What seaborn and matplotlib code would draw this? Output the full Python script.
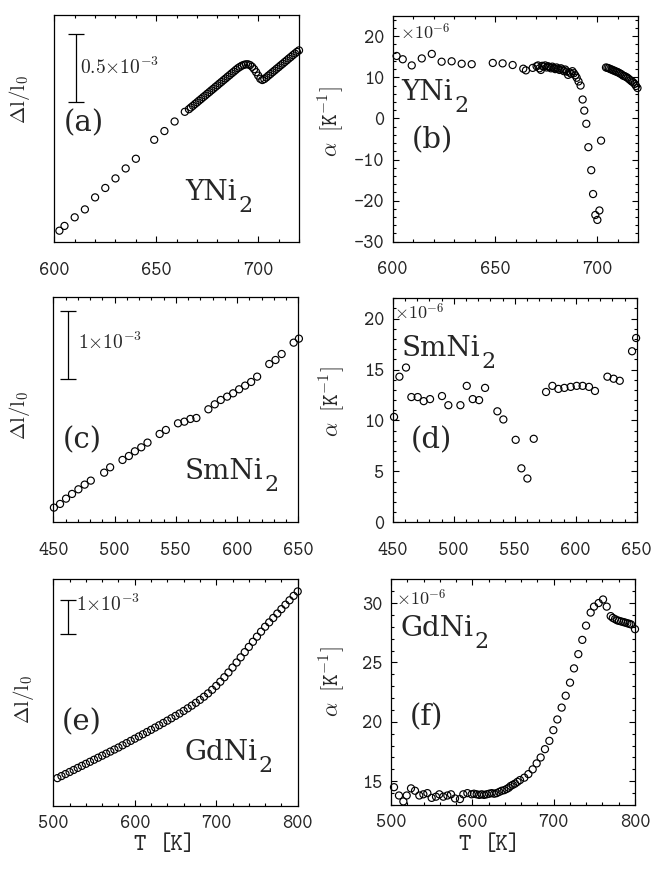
import matplotlib
matplotlib.use("Agg")
import matplotlib.pyplot as plt
from matplotlib.ticker import MultipleLocator, NullLocator
import seaborn as sns

# ---------------- data ----------------
# (a) YNi2 thermal expansion, Delta l / l0 in units of 1e-3 (arbitrary offset)
Ta = [602.5, 605, 610, 615, 620, 625, 630, 635, 640, 649, 654, 659, 664,
      666, 667, 668, 669, 670, 671, 672, 673, 674, 675, 676, 677, 678, 679, 680,
      681, 682, 683, 684, 685, 686, 687, 688, 689, 690, 691, 692, 693, 694, 695,
      696, 697, 698, 699, 700, 701, 702, 703, 704, 705, 706, 707, 708, 709, 710,
      711, 712, 713, 714, 715, 716, 717, 718, 719, 720]
dla = [0.085, 0.120, 0.183, 0.241, 0.329, 0.398, 0.468, 0.541, 0.612, 0.751, 0.815, 0.885, 0.956,
       0.975, 0.988, 1.000, 1.013, 1.025, 1.038, 1.050, 1.063, 1.075, 1.088, 1.100, 1.113, 1.125, 1.138, 1.150,
       1.163, 1.175, 1.188, 1.200, 1.213, 1.225, 1.238, 1.250, 1.263, 1.275, 1.285, 1.294, 1.300, 1.304, 1.304,
       1.298, 1.286, 1.268, 1.246, 1.221, 1.198, 1.189, 1.196, 1.208, 1.221, 1.233, 1.246, 1.258, 1.271, 1.283,
       1.296, 1.308, 1.321, 1.333, 1.346, 1.358, 1.371, 1.383, 1.395, 1.406]

# (b) YNi2 expansion coefficient alpha (1e-6 / K)
Tb = [601.9, 604.9, 609.3, 614.2, 619.1, 623.9, 628.8, 633.7, 638.6, 648.9, 653.7, 658.6, 663.8, 665.1,
      668.4, 670.3, 671.0, 671.7, 672.4, 673.1, 673.8, 674.5, 675.2, 675.9, 676.6, 677.3, 678.0, 678.7,
      679.4, 680.1, 680.8, 681.5, 682.2, 682.9, 683.6, 684.3, 685.0, 685.7, 686.4, 687.1, 687.8, 688.5,
      689.2, 689.9, 690.8, 691.8, 692.8, 693.6, 694.6, 695.6, 697.0, 697.9, 699.0, 700.0, 701.0, 701.8,
      704.2, 704.9, 705.6, 706.3, 707.0, 707.7, 708.4, 709.1, 709.8, 710.5, 711.2, 711.9, 712.6, 713.3,
      714.0, 714.7, 715.4, 716.1, 716.8, 717.5, 718.2, 718.9, 719.6]
alb = [15.2, 14.4, 12.9, 14.6, 15.7, 13.8, 13.9, 13.3, 13.2, 13.5, 13.4, 13.0, 12.1, 11.7,
       12.3, 12.7, 12.9, 12.2, 11.8, 12.8, 12.6, 12.9, 12.4, 12.7, 12.5, 12.2, 12.6, 12.3,
       12.0, 12.4, 12.1, 11.8, 12.2, 11.9, 11.5, 11.9, 11.4, 10.6, 11.2, 10.9, 11.5, 11.0,
       10.5, 9.9, 9.0, 8.0, 4.6, 1.9, -1.3, -7.0, -12.6, -18.4, -23.5, -24.7, -22.4, -5.4,
       12.4, 12.3, 12.2, 12.0, 11.9, 11.7, 11.6, 11.4, 11.3, 11.1, 10.9, 10.7, 10.4, 10.3,
       10.1, 9.9, 9.6, 9.3, 9.0, 8.8, 8.4, 7.9, 7.4]

# (c) SmNi2 Delta l / l0 (1e-3)
Tc = [450.5, 455.5, 460.4, 465.3, 470.5, 475.6, 480.6, 491.5, 496.4, 506.5, 511.7, 516.6, 521.8, 526.9,
      536.8, 541.9, 551.8, 557.0, 561.9, 566.8, 576.6, 581.8, 586.7, 591.9, 596.8, 601.7, 606.6, 611.5,
      616.4, 626.3, 631.4, 636.4, 646.2, 650.5]
dlc = [0.216, 0.270, 0.348, 0.417, 0.485, 0.554, 0.613, 0.730, 0.809, 0.917, 0.975, 1.044, 1.103, 1.172,
       1.299, 1.358, 1.456, 1.480, 1.520, 1.534, 1.662, 1.735, 1.799, 1.848, 1.897, 1.956, 2.010, 2.064,
       2.142, 2.328, 2.387, 2.475, 2.642, 2.701]

# (d) SmNi2 alpha (1e-6 / K)
Td = [451.1, 455.5, 460.9, 465.3, 470.5, 475.4, 480.6, 490.4, 495.6, 505.5, 510.7, 515.6, 520.8, 525.7,
      535.8, 540.7, 550.8, 555.5, 560.4, 565.6, 575.7, 580.9, 585.8, 590.7, 595.9, 600.8, 605.7, 610.9,
      615.8, 626.0, 631.1, 636.1, 646.2, 649.5]
ald = [10.35, 14.3, 15.2, 12.3, 12.3, 11.9, 12.1, 12.4, 11.5, 11.5, 13.4, 12.1, 12.0, 13.2,
       10.9, 10.1, 8.1, 5.3, 4.3, 8.2, 12.8, 13.4, 13.1, 13.2, 13.3, 13.4, 13.4, 13.3,
       12.9, 14.3, 14.1, 13.9, 16.8, 18.1]

# (e) GdNi2 Delta l / l0 (1e-3)
Te = [505, 510, 515, 520, 525, 530, 535, 540, 545, 550, 555, 560, 565, 570, 575, 580, 585, 590, 595, 600,
      605, 610, 615, 620, 625, 630, 635, 640, 645, 650, 655, 660, 665, 670, 675, 680, 685, 690, 695, 700,
      705, 710, 715, 720, 725, 730, 735, 740, 745, 750, 755, 760, 765, 770, 775, 780, 785, 790, 795, 800]
dle = [0.82, 0.88, 0.94, 1.00, 1.06, 1.12, 1.18, 1.24, 1.30, 1.36,
       1.42, 1.48, 1.54, 1.60, 1.66, 1.72, 1.785, 1.85, 1.915, 1.98,
       2.045, 2.11, 2.175, 2.24, 2.307, 2.374, 2.442, 2.51, 2.58, 2.65,
       2.72, 2.795, 2.872, 2.952, 3.035, 3.122, 3.214, 3.312, 3.418, 3.532,
       3.655, 3.787, 3.926, 4.071, 4.220, 4.372, 4.525, 4.678, 4.830, 4.980,
       5.127, 5.272, 5.40, 5.53, 5.66, 5.79, 5.92, 6.05, 6.18, 6.31]

# (f) GdNi2 alpha (1e-6 / K)
Tf = [503.7, 509.8, 515.2, 519.3, 524.6, 529.5, 534.8, 539.8, 544.7, 550.0, 555.3, 559.4, 564.3, 569.3,
      573.8, 578.7, 584.8, 588.9, 593.9, 599.2, 602.0, 605.3, 608.5, 611.5, 614.5, 617.6, 620.7, 623.8,
      626.9, 629.9, 633.0, 636.1, 639.2, 642.2, 644.7, 647.1, 649.8, 652.5, 655.5, 658.6, 663.9, 668.9,
      674.2, 679.1, 684.0, 689.3, 694.7, 699.6, 704.5, 709.8, 714.8, 720.1, 725.0, 730.3, 735.2, 739.8,
      745.5, 749.6, 755.3, 760.7, 765.2, 770.1, 772.7, 775.4, 778.0, 780.3, 783.0, 785.7, 788.2, 790.6,
      793.0, 795.1, 800.0]
alf = [14.5, 13.8, 13.3, 13.8, 14.4, 14.2, 13.8, 13.9, 14.0, 13.6, 13.7, 13.9, 13.7, 13.8,
       13.9, 13.55, 13.5, 13.9, 14.0, 13.9, 13.95, 13.9, 13.85, 13.9, 13.85, 13.9, 13.95, 14.0,
       13.95, 14.0, 14.1, 14.2, 14.25, 14.35, 14.45, 14.6, 14.7, 14.8, 14.95, 15.1, 15.3, 15.6,
       16.0, 16.5, 17.0, 17.7, 18.4, 19.3, 20.2, 21.2, 22.2, 23.3, 24.5, 25.7, 26.9, 28.1,
       29.2, 29.7, 30.0, 30.3, 29.7, 28.9, 28.75, 28.65, 28.55, 28.5, 28.45, 28.4, 28.35, 28.3,
       28.25, 28.2, 27.8]

compounds = ["YNi", "SmNi", "GdNi"]
panel_tags = ["(a)", "(b)", "(c)", "(d)", "(e)", "(f)"]

# ---------------- style ----------------
sns.set_style("ticks")
plt.rcParams["font.family"] = ["cmtt10", "DejaVu Sans"]
plt.rcParams["mathtext.fontset"] = "cm"
plt.rcParams["axes.unicode_minus"] = False
plt.rcParams["axes.linewidth"] = 0.9

W, H = 655, 873
fig = plt.figure(figsize=(W / 100, H / 100), dpi=100)
renderer = fig.canvas.get_renderer()


def add_ax(l, t, r, b):
    return fig.add_axes([l / W, 1 - b / H, (r - l) / W, (b - t) / H])


def ftext(x, y, s, **kw):
    return fig.text(x / W, 1 - y / H, s, **kw)


TICK_FS = 14
SERIF = "DejaVu Serif"


def style_ax(ax, xlim, xmaj, xmin, ylim, ymaj=None, ymin=None, xpad=14):
    ax.set_xlim(*xlim)
    ax.set_ylim(*ylim)
    ax.xaxis.set_major_locator(MultipleLocator(xmaj))
    ax.xaxis.set_minor_locator(MultipleLocator(xmin))
    if ymaj is None:
        ax.yaxis.set_major_locator(NullLocator())
        ax.yaxis.set_minor_locator(NullLocator())
    else:
        ax.yaxis.set_major_locator(MultipleLocator(ymaj))
        ax.yaxis.set_minor_locator(MultipleLocator(ymin))
    ax.tick_params(which="both", direction="in", top=True, right=True, color="black", width=0.8)
    ax.tick_params(which="major", length=4.5, labelsize=TICK_FS)
    ax.tick_params(which="minor", length=2.2)
    ax.tick_params(axis="x", which="major", pad=xpad)
    ax.tick_params(axis="y", which="major", pad=6)
    for sp in ax.spines.values():
        sp.set_visible(True)
        sp.set_color("black")
    ax.set_xlabel("")
    ax.set_ylabel("")


def scatter(ax, x, y):
    sns.scatterplot(x=x, y=y, ax=ax, s=26, facecolor="none", edgecolor="black",
                    linewidth=0.85, legend=False, clip_on=False, zorder=3)


# axes boxes in pixel coordinates (left, top, right, bottom)
ax_a = add_ax(54.3, 15.3, 299.0, 242.3)
ax_b = add_ax(392.7, 15.7, 638.3, 241.7)
ax_c = add_ax(53.3, 297.3, 298.3, 522.3)
ax_d = add_ax(392.7, 298.3, 636.7, 522.3)
ax_e = add_ax(53.3, 579.0, 297.7, 806.0)
ax_f = add_ax(391.0, 579.3, 635.0, 805.0)

scatter(ax_a, Ta, dla)
style_ax(ax_a, (600, 720), 50, 10, (0, 1.663))
scatter(ax_b, Tb, alb)
style_ax(ax_b, (600, 720), 50, 10, (-30, 25), 10, 2)
scatter(ax_c, Tc, dlc)
style_ax(ax_c, (450, 650), 50, 10, (0, 3.309))
scatter(ax_d, Td, ald)
style_ax(ax_d, (450, 650), 50, 10, (0, 22), 5, 1)
scatter(ax_e, Te, dle)
style_ax(ax_e, (500, 800), 100, 20, (0, 6.676), xpad=6.5)
scatter(ax_f, Tf, alf)
style_ax(ax_f, (500, 800), 100, 20, (13, 32), 5, 1, xpad=6.5)

# scale bars (data units of 1e-3)
for ax, x, ymid, half in [(ax_a, 610.6, 1.279, 0.25), (ax_c, 461.8, 2.613, 0.5), (ax_e, 517.7, 5.559, 0.5)]:
    ax.errorbar([x], [ymid], yerr=[half], fmt="none", ecolor="black", elinewidth=0.9,
                capsize=5.8, capthick=0.9)

SC_FS = 14
ftext(80, 68.3, r"$\mathtt{0.5}{\times}\mathtt{10}^{\mathtt{-3}}$", fontsize=SC_FS, va="center", ha="left")
ftext(77.7, 343.3, r"$\mathtt{1}{\times}\mathtt{10}^{\mathtt{-3}}$", fontsize=SC_FS, va="center", ha="left")
ftext(76, 605, r"$\mathtt{1}{\times}\mathtt{10}^{\mathtt{-3}}$", fontsize=SC_FS, va="center", ha="left")

for x, y in [(400, 33), (394, 313.3), (396, 599.3)]:
    ftext(x, y, r"${\times}\mathtt{10}^{\mathtt{-6}}$", fontsize=13, va="center", ha="left")

TAG_FS = 21
CMP_FS = 20
SUB_FS = 16
# panel tags
for (x, y), tag in zip([(63.3, 131.7), (411.7, 148.3), (62.7, 448.3), (410.7, 448.3), (61.7, 730), (409.3, 725)],
                       panel_tags):
    ftext(x, y, tag, fontsize=TAG_FS, family=SERIF, va="baseline", ha="left")

# compound names with a large, low subscript "2"
for (x, y), name in zip([(185, 200), (401.7, 100), (184.3, 479.3), (401.7, 356), (184.3, 760), (400, 636)],
                        [compounds[0], compounds[0], compounds[1], compounds[1], compounds[2], compounds[2]]):
    t = ftext(x, y, name, fontsize=CMP_FS, family=SERIF, va="baseline", ha="left")
    bb = t.get_window_extent(renderer)
    ftext(bb.x1 + 1.5, y + 12, "2", fontsize=SUB_FS, family=SERIF, va="baseline", ha="left")

# y labels
YL_FS = 15
for x, y in [(20, 99), (20, 415), (23, 699)]:
    ftext(x, y, r"$\Delta\mathrm{l/l}_{0}$", fontsize=YL_FS, rotation=90, va="center", ha="center")
for x, y in [(331, 121.7), (331.7, 401.7), (331.7, 681.7)]:
    ftext(x, y, r"$\alpha\;\;\mathtt{[K}^{\mathtt{-1}}\mathtt{]}$", fontsize=16, rotation=90,
          va="center", ha="center")

# x labels "T [K]"
for xT, xK in [(133, 159), (458, 484)]:
    ftext(xT, 846, "T", fontsize=17, va="center", ha="left")
    ftext(xK, 846, "[K]", fontsize=17, va="center", ha="left")

fig.savefig("out.png", dpi=100)
